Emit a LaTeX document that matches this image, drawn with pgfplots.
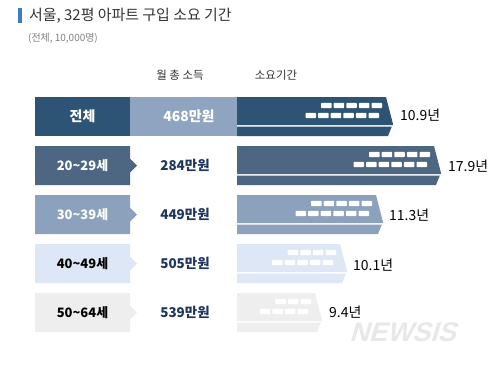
\documentclass[border=0pt]{standalone}
\usepackage{pgfplots}
\pgfplotsset{compat=1.18}
\usepackage{fontspec}
\setmainfont{Liberation Sans}
\newfontfamily\kr{Noto Sans CJK KR}
\newfontfamily\wm{Liberation Sans}
\definecolor{c1}{HTML}{2E5475}
\definecolor{c1b}{HTML}{8EA4C0}
\definecolor{c2}{HTML}{4D6681}
\definecolor{c3}{HTML}{8BA1BC}
\definecolor{c4}{HTML}{DDE7F5}
\definecolor{c5}{HTML}{EEEEEE}
\definecolor{inc}{HTML}{1F3560}
\definecolor{ttl}{HTML}{333333}
\definecolor{mark}{HTML}{3A7DC0}
% #1 tip x, #2 row top y, #3 top windows, #4 bottom windows
\newcommand\windows[4]{%
  \pgfplotsinvokeforeach{1,...,#3}{\fill[white, rounded corners=0.8pt] (axis cs:{#1-11-(##1-1)*12.6-10.5},{#2+5.8}) rectangle (axis cs:{#1-11-(##1-1)*12.6},{#2+11.2});}
  \pgfplotsinvokeforeach{1,...,#4}{\fill[white, rounded corners=0.8pt] (axis cs:{#1-14-(##1-1)*12.6-10.5},{#2+15.8}) rectangle (axis cs:{#1-14-(##1-1)*12.6},{#2+21.2});}
}
% #1 colour, #2 tip x, #3 row top y
\newcommand\rowbar[3]{%
  \addplot[fill=#1, draw=none] coordinates {(237,#3) ({#2-7},#3) (#2,{#3+27}) ({#2-0.3},{#3+28}) (237,{#3+28})} -- cycle;
  \addplot[fill=#1, draw=none] coordinates {(237,{#3+29.6}) ({#2-1.2},{#3+29.6}) ({#2-5},{#3+39}) (237,{#3+39})} -- cycle;
}
% #1 colour, #2 row top y
\newcommand\lab[2]{%
  \addplot[fill=#1, draw=none] coordinates {(35,#2) (130,#2) (130,{#2+12.5}) (137,{#2+19.5}) (130,{#2+26.5}) (130,{#2+39}) (35,{#2+39})} -- cycle;
}
\newcommand\tl{\textasciitilde}
\begin{document}
\begin{tikzpicture}
\begin{axis}[scale only axis, width=500bp, height=367bp,
  xmin=0, xmax=500, ymin=0, ymax=367, y dir=reverse, hide axis, clip=false]
\addplot[fill=white, draw=none] coordinates {(0,0) (500,0) (500,367) (0,367)} -- cycle;
% title
\addplot[fill=mark, draw=none] coordinates {(18,8) (22,8) (22,23) (18,23)} -- cycle;
\node[anchor=west, inner sep=0, text=ttl] at (axis cs:29,15.5) {\kr\fontsize{15}{17}\selectfont 서울, 32평 아파트 구입 소요 기간};
\node[anchor=west, inner sep=0, text=gray] at (axis cs:28,38.5) {\kr\fontsize{10}{12}\selectfont (전체, 10,000명)};
% headers
\node[inner sep=0, text=ttl] at (axis cs:180,75) {\kr\fontsize{11.5}{13}\selectfont 월 총 소득};
\node[inner sep=0, text=ttl] at (axis cs:276,75) {\kr\fontsize{11.5}{13}\selectfont 소요기간};
% row 1 (total)
\addplot[fill=c1, draw=none] coordinates {(35,97) (130,97) (130,136) (35,136)} -- cycle;
\addplot[fill=c1b, draw=none] coordinates {(130,97) (237,97) (237,136) (130,136)} -- cycle;
\rowbar{c1}{393}{97}
\windows{393}{97}{5}{6}
\node[inner sep=0, text=white] at (axis cs:82.5,116.5) {\kr\bfseries\fontsize{14}{16}\selectfont 전체};
\node[inner sep=0, text=white] at (axis cs:189,116.5) {\kr\bfseries\fontsize{14}{16}\selectfont 468만원};
\node[anchor=west, inner sep=0] at (axis cs:400,115.5) {\kr\fontsize{14}{16}\selectfont 10.9년};
% row 2
\lab{c2}{146}
\rowbar{c2}{441}{146}
\windows{441}{146}{5}{6}
\node[inner sep=0, text=white] at (axis cs:82.5,165.5) {\kr\bfseries\fontsize{13}{15}\selectfont 20\tl 29세};
\node[inner sep=0, text=inc] at (axis cs:185,165.5) {\kr\bfseries\fontsize{13.5}{15}\selectfont 284만원};
\node[anchor=west, inner sep=0] at (axis cs:448,166.5) {\kr\fontsize{14}{16}\selectfont 17.9년};
% row 3
\lab{c3}{195}
\rowbar{c3}{383}{195}
\windows{383}{195}{5}{6}
\node[inner sep=0, text=white] at (axis cs:82.5,214.5) {\kr\bfseries\fontsize{13}{15}\selectfont 30\tl 39세};
\node[inner sep=0, text=inc] at (axis cs:185,214.5) {\kr\bfseries\fontsize{13.5}{15}\selectfont 449만원};
\node[anchor=west, inner sep=0] at (axis cs:389,215.5) {\kr\fontsize{14}{16}\selectfont 11.3년};
% row 4
\lab{c4}{244}
\rowbar{c4}{347}{244}
\windows{347}{244}{4}{5}
\node[inner sep=0, text=black] at (axis cs:82.5,263.5) {\kr\bfseries\fontsize{13}{15}\selectfont 40\tl 49세};
\node[inner sep=0, text=inc] at (axis cs:185,263.5) {\kr\bfseries\fontsize{13.5}{15}\selectfont 505만원};
\node[anchor=west, inner sep=0] at (axis cs:353,265) {\kr\fontsize{14}{16}\selectfont 10.1년};
% row 5
\lab{c5}{293}
\rowbar{c5}{322}{293}
\windows{322}{293}{3}{4}
\node[inner sep=0, text=black] at (axis cs:82.5,312.5) {\kr\bfseries\fontsize{13}{15}\selectfont 50\tl 64세};
\node[inner sep=0, text=inc] at (axis cs:185,312.5) {\kr\bfseries\fontsize{13.5}{15}\selectfont 539만원};
\node[anchor=west, inner sep=0] at (axis cs:329,312.5) {\kr\fontsize{14}{16}\selectfont 9.4년};
% watermark
\node[anchor=west, inner sep=0, text=black!9, xslant=0.3] at (axis cs:352,332) {\wm\bfseries\fontsize{27}{29}\selectfont NEWSIS};
\end{axis}
\end{tikzpicture}
\end{document}
